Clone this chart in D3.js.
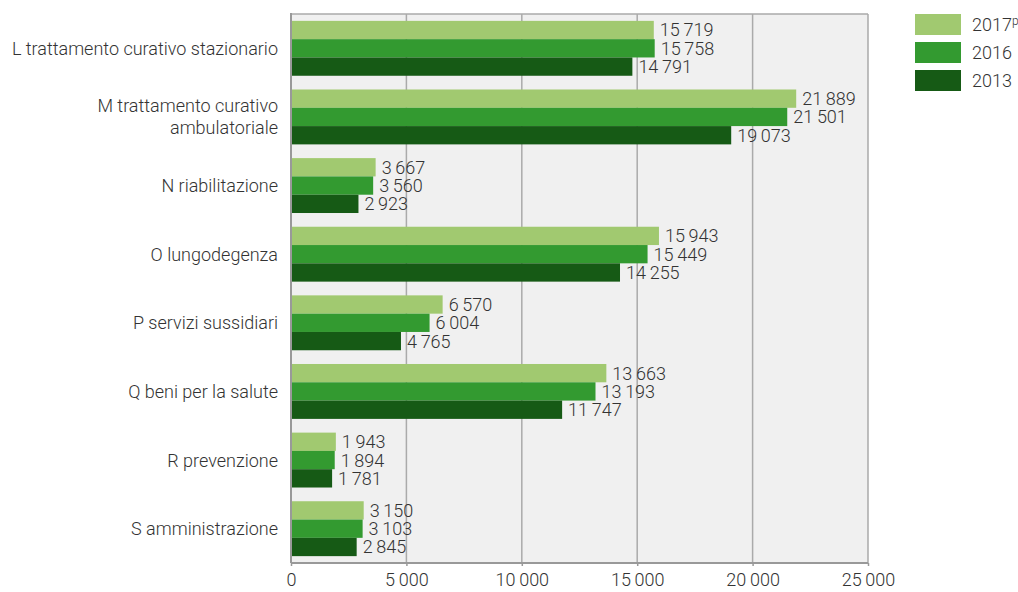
<!DOCTYPE html>
<html><head><meta charset="utf-8">
<script src="https://cdn.jsdelivr.net/npm/d3@7"></script>
<style>
body{margin:0;background:#fff;}
text{font-family:Roboto,"Noto Sans",sans-serif;font-weight:300;fill:#333;}
</style></head>
<body><svg id="c" width="1018" height="592"></svg>
<script>
const categories = [["L trattamento curativo stazionario"],["M trattamento curativo","ambulatoriale"],["N riabilitazione"],["O lungodegenza"],["P servizi sussidiari"],["Q beni per la salute"],["R prevenzione"],["S amministrazione"]];
const seriesNames = ["2017","2016","2013"];
const values2017 = [15719,21889,3667,15943,6570,13663,1943,3150];
const values2016 = [15758,21501,3560,15449,6004,13193,1894,3103];
const values2013 = [14791,19073,2923,14255,4765,11747,1781,2845];
const xTicks = [0,5000,10000,15000,20000,25000];
const colors = ["#a1c970","#339a30","#165a15"];
const series = [values2017, values2016, values2013];

const svg = d3.select("#c");
const m = {l:291, r:868, t:14, b:563};
const FS = 18;
const x = d3.scaleLinear().domain([0,25000]).range([m.l, m.r]);
const y = d3.scaleBand().domain(d3.range(categories.length)).range([m.t, m.b]).paddingInner(0.2).paddingOuter(0.1);
const y2 = d3.scaleBand().domain(d3.range(3)).range([0, y.bandwidth()]);
const fmt = d3.formatLocale({decimal:",", thousands:"\u2009", grouping:[3], currency:["",""]}).format(",d");

svg.append("rect").attr("x",m.l).attr("y",m.t).attr("width",m.r-m.l).attr("height",m.b-m.t).attr("fill","#f0f0f0");
svg.append("g").selectAll("line").data(xTicks.slice(1)).join("line")
  .attr("x1",d=>x(d)).attr("x2",d=>x(d)).attr("y1",m.t).attr("y2",m.b)
  .attr("stroke","#aaa").attr("stroke-width",1.5);
svg.append("line").attr("x1",m.l).attr("x2",m.r).attr("y1",m.t).attr("y2",m.t).attr("stroke","#aaa").attr("stroke-width",1.5);

const g = svg.append("g");
series.forEach((vals, si) => {
  g.append("g").selectAll("rect").data(vals).join("rect")
    .attr("x", x(0)).attr("y", (d,i)=>y(i)+y2(si)).attr("width", d=>x(d)-x(0)).attr("height", y2.bandwidth())
    .attr("fill", colors[si]);
  g.append("g").selectAll("text").data(vals).join("text")
    .attr("x", d=>x(d)+6).attr("y", (d,i)=>y(i)+y2(si)+y2.bandwidth()/2).attr("dy","0.36em")
    .attr("font-size",FS).text(d=>fmt(d));
});

svg.append("line").attr("x1",m.l).attr("x2",m.l).attr("y1",m.t-1).attr("y2",m.b).attr("stroke","#999").attr("stroke-width",2);
const ax = svg.append("g").attr("transform",`translate(0,${m.b})`)
  .call(d3.axisBottom(x).tickValues(xTicks).tickSize(3).tickPadding(7).tickFormat(d=>fmt(d)));
ax.select(".domain").attr("stroke","#999").attr("stroke-width",2).attr("d",`M${m.l},0H${m.r}`);
ax.selectAll(".tick line").attr("stroke","#999").attr("stroke-width",1.5);
ax.selectAll(".tick text").attr("font-size",FS).attr("font-family",null).attr("fill","#333");

const cl = svg.append("g").selectAll("text").data(categories).join("text")
  .attr("text-anchor","end").attr("font-size",FS)
  .attr("x", 278)
  .attr("y",(d,i)=>y(i)+y.bandwidth()/2 - (d.length-1)*11);
cl.each(function(d){
  const t = d3.select(this);
  d.forEach((line,k)=>t.append("tspan").attr("x",278).attr("dy", k===0?"0.36em":"22").text(line));
});

const lg = svg.append("g").attr("transform","translate(915,14)");
seriesNames.forEach((n,i)=>{
  lg.append("rect").attr("x",0).attr("y",i*28).attr("width",46).attr("height",21).attr("fill",colors[i]);
  const t = lg.append("text").attr("x",57).attr("y",i*28+10.5).attr("dy","0.36em").attr("font-size",FS).text(n);
  if(i===0) t.append("tspan").attr("font-size",12).attr("dy","-0.5em").text("p");
});
</script></body></html>
